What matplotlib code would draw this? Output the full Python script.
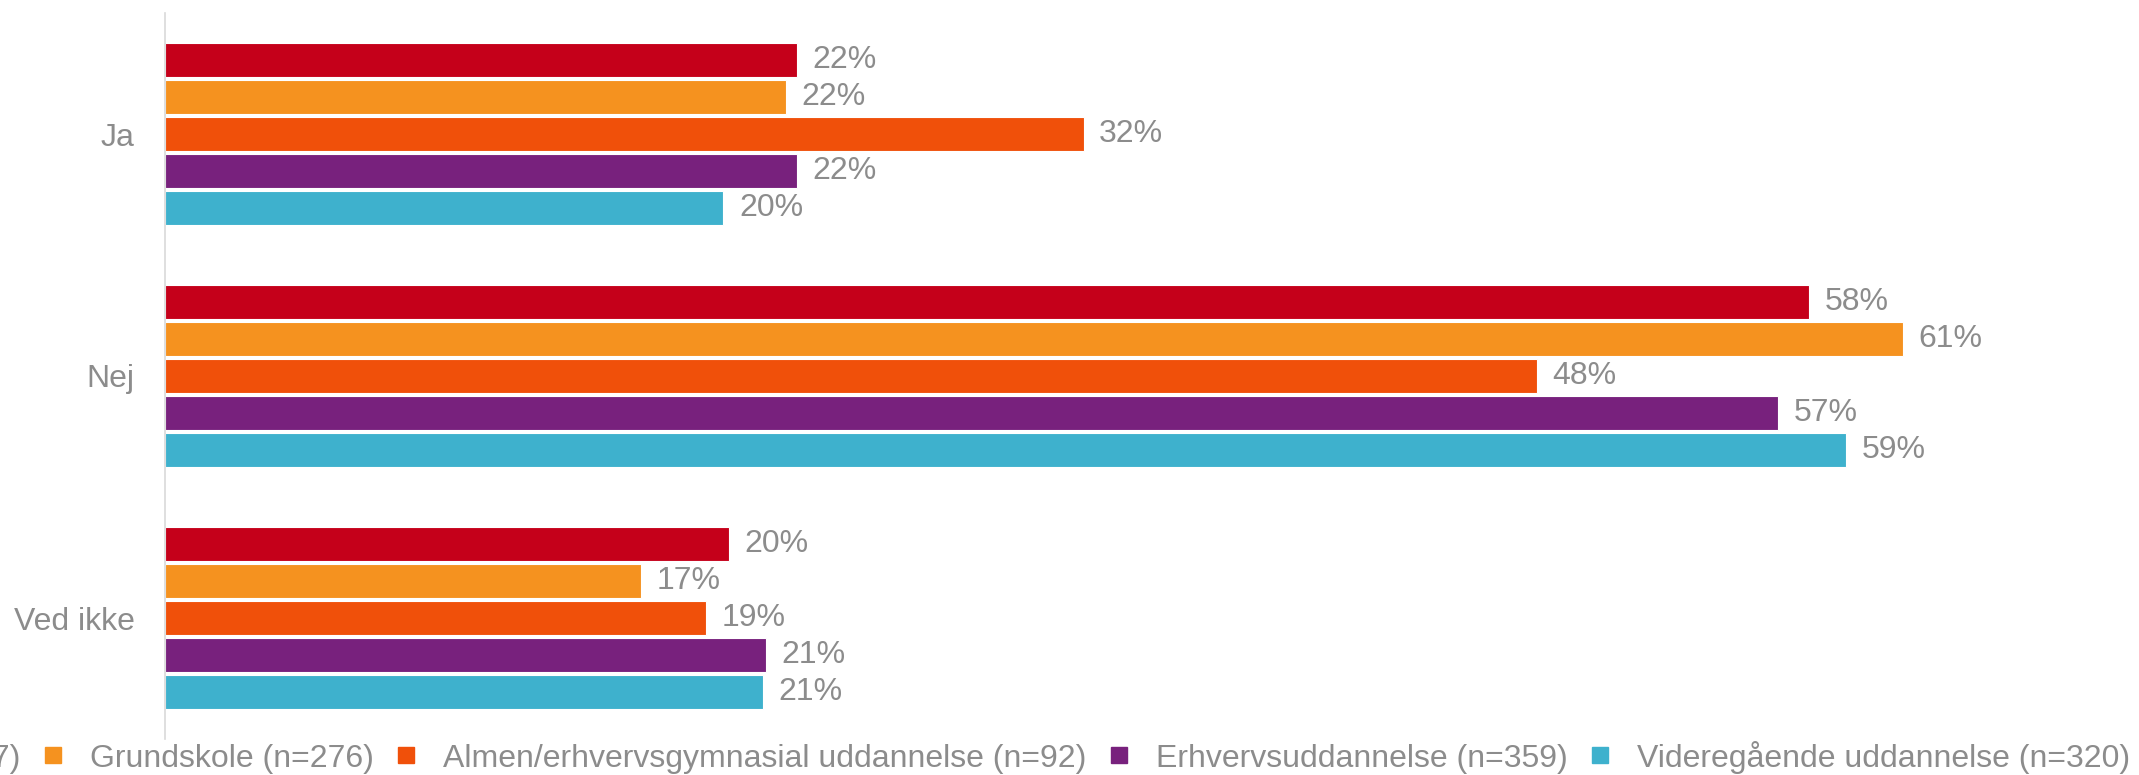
import numpy as np
import matplotlib.pyplot as plt
from matplotlib.lines import Line2D

plt.rcParams['font.family'] = ['Liberation Sans', 'DejaVu Sans']

categories = ['Ja', 'Nej', 'Ved ikke']
series_names = [
    'Alle (n=1047)',
    'Grundskole (n=276)',
    'Almen/erhvervsgymnasial uddannelse (n=92)',
    'Erhvervsuddannelse (n=359)',
    'Videregående uddannelse (n=320)',
]
alle = [22.3, 58.0, 19.9]
grundskole = [21.9, 61.3, 16.8]
almen = [32.4, 48.4, 19.1]
erhverv = [22.3, 56.9, 21.2]
videregaaende = [19.7, 59.3, 21.1]
values = [alle, grundskole, almen, erhverv, videregaaende]
colors = ['#C5001A', '#F5921F', '#F0500A', '#78217D', '#3EB1CD']

W, H = 2139, 775
fig = plt.figure(figsize=(W / 100, H / 100), dpi=100)
px_per_pct = 28.35
xmax = 68
ax = fig.add_axes([165 / W, 1 - 739 / H, xmax * px_per_pct / W, (739 - 13) / H])

grey = '#8C8C8C'
y = np.arange(len(categories))
pitch = 0.152
bar_h = 0.14
for i, (vals, col) in enumerate(zip(values, colors)):
    pos = y + (i - 2) * pitch
    ax.barh(pos, vals, height=bar_h, color=col, edgecolor='white', linewidth=0.8)
    for p, v in zip(pos, vals):
        ax.text(v + 0.55, p, f'{v:.0f}%', va='center', ha='left',
                fontsize=23, color=grey)

ax.set_xlim(0, xmax)
ax.set_ylim(2.5, -0.5)
ax.set_yticks(y)
ax.set_yticklabels(categories, fontsize=23, color=grey)
ax.tick_params(axis='y', length=0, pad=22)
ax.set_xticks([])
for s in ['top', 'right', 'bottom']:
    ax.spines[s].set_visible(False)
ax.spines['left'].set_color('#D9D9D9')
ax.spines['left'].set_linewidth(1.2)

handles = [Line2D([], [], marker='s', linestyle='none', markersize=11.5,
                  markerfacecolor=c, markeredgecolor=c) for c in colors]
leg = fig.legend(handles, series_names, loc='center right',
                 bbox_to_anchor=(2130 / W, 1 - 757 / H), ncol=5, frameon=False,
                 fontsize=23, handlelength=0.6, handletextpad=0.85,
                 columnspacing=0.72, borderaxespad=0, borderpad=0)
for t in leg.get_texts():
    t.set_color(grey)

fig.savefig('out.png', dpi=100)
